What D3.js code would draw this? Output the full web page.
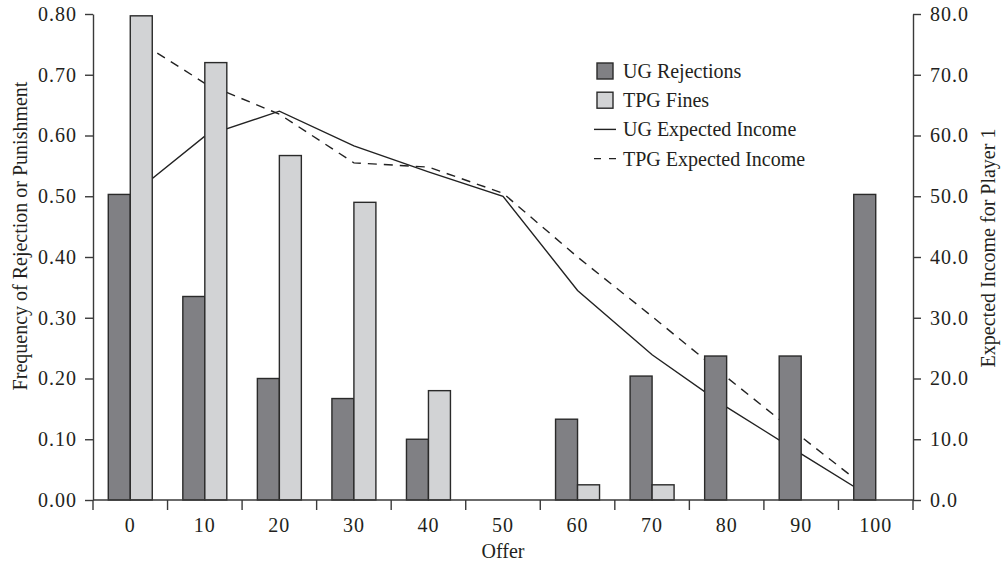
<!DOCTYPE html>
<html>
<head>
<meta charset="utf-8">
<script src="https://cdn.jsdelivr.net/npm/d3@7"></script>
<style>
  body { margin: 0; background: #fff; }
  text { font-family: "Liberation Serif", "Times New Roman", serif; fill: #231f20; }
</style>
</head>
<body>
<div id="container"></div>
<script>
const offers = [0, 10, 20, 30, 40, 50, 60, 70, 80, 90, 100];
const ugRejections = [0.503, 0.335, 0.2, 0.167, 0.1, 0, 0.133, 0.204, 0.237, 0.237, 0.503];
const tpgFines = [0.797, 0.72, 0.567, 0.49, 0.18, 0, 0.025, 0.025, 0, 0, 0];
const ugIncome = [50.0, 59.9, 64.0, 58.3, 54.0, 50.0, 34.5, 23.9, 15.3, 7.6, 0];
const tpgIncome = [76.4, 68.6, 63.5, 55.5, 54.8, 50.5, 40.0, 30.2, 20.2, 10.4, 0.8];
const leftTicks = [0, 0.1, 0.2, 0.3, 0.4, 0.5, 0.6, 0.7, 0.8];
const rightTicks = [0, 10, 20, 30, 40, 50, 60, 70, 80];
const legendItems = [
  { label: "UG Rejections", kind: "box", color: "#808084" },
  { label: "TPG Fines", kind: "box", color: "#d2d3d5" },
  { label: "UG Expected Income", kind: "line", dash: null },
  { label: "TPG Expected Income", kind: "line", dash: "7,8" },
];

const WIDTH = 1007;
const HEIGHT = 569;
const LEFT = 93;
const RIGHT = 913;
const TOP = 14;
const BOTTOM = 500;
const AXIS = "#3a3a3a";

const svg = d3
  .select("#container")
  .append("svg")
  .attr("width", WIDTH)
  .attr("height", HEIGHT);

const x = d3.scaleBand().domain(offers).range([LEFT, RIGHT]).padding(0);
const yLeft = d3.scaleLinear().domain([0, 0.8]).range([BOTTOM, TOP]);
const yRight = d3.scaleLinear().domain([0, 80]).range([BOTTOM, TOP]);
const barW = x.bandwidth() * 0.295;
const cx = (d) => x(d) + x.bandwidth() / 2;

// lines sit behind the bars
const line = (vals) =>
  d3
    .line()
    .x((d, i) => cx(offers[i]))
    .y((d) => yRight(d))(vals);

svg
  .append("path")
  .attr("d", line(ugIncome))
  .attr("fill", "none")
  .attr("stroke", "#222")
  .attr("stroke-width", 1.4);

svg
  .append("path")
  .attr("d", line(tpgIncome))
  .attr("fill", "none")
  .attr("stroke", "#222")
  .attr("stroke-width", 1.4)
  .attr("stroke-dasharray", "9,7");

// bars
svg
  .append("g")
  .selectAll("rect")
  .data(offers)
  .enter()
  .append("rect")
  .attr("x", (d) => cx(d) - barW)
  .attr("y", (d, i) => yLeft(ugRejections[i]))
  .attr("width", barW)
  .attr("height", (d, i) => BOTTOM - yLeft(ugRejections[i]))
  .attr("fill", legendItems[0].color)
  .attr("stroke", "#2a2a2a")
  .attr("stroke-width", 1.4);

svg
  .append("g")
  .selectAll("rect")
  .data(offers)
  .enter()
  .append("rect")
  .attr("x", (d) => cx(d))
  .attr("y", (d, i) => yLeft(tpgFines[i]))
  .attr("width", barW)
  .attr("height", (d, i) => BOTTOM - yLeft(tpgFines[i]))
  .attr("fill", legendItems[1].color)
  .attr("stroke", "#2a2a2a")
  .attr("stroke-width", 1.4);

// axes
const leftAxis = d3
  .axisLeft(yLeft)
  .tickValues(leftTicks)
  .tickFormat(d3.format(".2f"))
  .tickSize(8)
  .tickSizeOuter(0)
  .tickPadding(8);

const rightAxis = d3
  .axisRight(yRight)
  .tickValues(rightTicks)
  .tickFormat(d3.format(".1f"))
  .tickSize(8)
  .tickSizeOuter(0)
  .tickPadding(9);

const gl = svg.append("g").attr("transform", `translate(${LEFT},0)`).call(leftAxis);
const gr = svg.append("g").attr("transform", `translate(${RIGHT},0)`).call(rightAxis);

// x axis: ticks on band edges, labels at band centres
const gx = svg.append("g").attr("transform", `translate(0,${BOTTOM})`);
gx.append("line")
  .attr("x1", LEFT)
  .attr("x2", RIGHT)
  .attr("stroke", AXIS)
  .attr("stroke-width", 1.4);
gx.selectAll(".edge")
  .data(offers.concat(["end"]))
  .enter()
  .append("line")
  .attr("x1", (d) => (d === "end" ? RIGHT : x(d)))
  .attr("x2", (d) => (d === "end" ? RIGHT : x(d)))
  .attr("y1", 0)
  .attr("y2", 10)
  .attr("stroke", AXIS)
  .attr("stroke-width", 1.4);
gx.selectAll(".lbl")
  .data(offers)
  .enter()
  .append("text")
  .attr("x", (d) => cx(d))
  .attr("y", 32)
  .attr("text-anchor", "middle")
  .style("font-size", "20px")
  .style("letter-spacing", "1px")
  .text((d) => d);

[gl, gr].forEach((g) => {
  g.select(".domain").attr("stroke", AXIS).attr("stroke-width", 1.4);
  g.selectAll(".tick line").attr("stroke", AXIS).attr("stroke-width", 1.4);
  g.selectAll(".tick text")
    .style("font-family", '"Liberation Serif", serif')
    .style("font-size", "20px")
    .style("letter-spacing", "1px")
    .attr("fill", "#231f20");
});

// axis titles
svg
  .append("text")
  .attr("transform", "translate(27,236) rotate(-90)")
  .attr("text-anchor", "middle")
  .style("font-size", "20px")
  .text("Frequency of Rejection or Punishment");

svg
  .append("text")
  .attr("transform", "translate(995,248) rotate(-90)")
  .attr("text-anchor", "middle")
  .style("font-size", "20px")
  .text("Expected Income for Player 1");

svg
  .append("text")
  .attr("x", 503)
  .attr("y", 558)
  .attr("text-anchor", "middle")
  .style("font-size", "20px")
  .text("Offer");

// legend
const legend = svg
  .append("g")
  .selectAll("g")
  .data(legendItems)
  .enter()
  .append("g")
  .attr("transform", (d, i) => `translate(597,${71 + i * 29.2})`);

legend
  .filter((d) => d.kind === "box")
  .append("rect")
  .attr("x", 0)
  .attr("y", -8)
  .attr("width", 16)
  .attr("height", 16)
  .attr("fill", (d) => d.color)
  .attr("stroke", "#2a2a2a")
  .attr("stroke-width", 1.4);

legend
  .filter((d) => d.kind === "line")
  .append("line")
  .attr("x1", -3)
  .attr("x2", 19)
  .attr("stroke", "#222")
  .attr("stroke-width", 1.4)
  .attr("stroke-dasharray", (d) => d.dash);

legend
  .append("text")
  .attr("x", 26)
  .attr("dy", "0.35em")
  .style("font-size", "20px")
  .text((d) => d.label);
</script>
</body>
</html>
